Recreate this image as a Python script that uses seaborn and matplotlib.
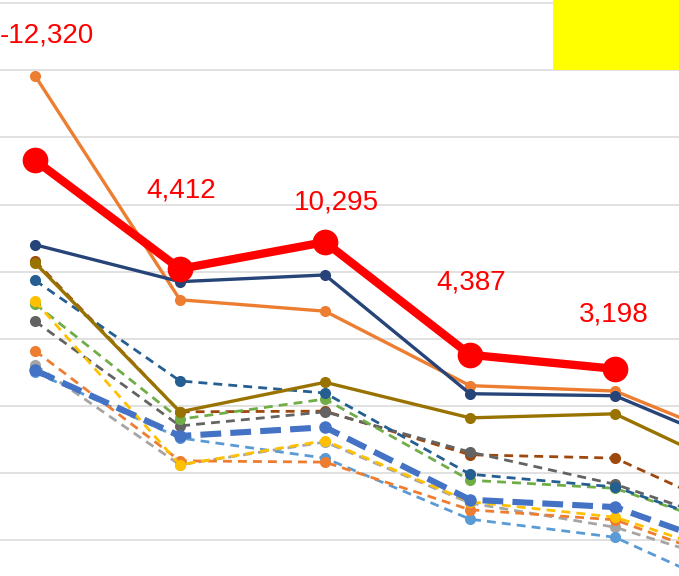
import matplotlib
matplotlib.use("Agg")
import matplotlib.pyplot as plt
from matplotlib.patches import Rectangle
import seaborn as sns
import pandas as pd

# ==========================================
# Data (gridline step = 10)
# ==========================================
periods = [0, 1, 2, 3, 4, 5]

red_vals = [56.6, 40.4, 44.4, 27.6, 25.5]
red_labels = ["-12,320", "4,412", "10,295", "4,387", "3,198"]
label_x = [0.08, 1.01, 2.08, 3.01, 3.99]
label_y = [74.2, 51.1, 49.3, 37.4, 32.5]

orange_solid = [69.2, 35.8, 34.1, 23.0, 22.2, 13.4]
navy_solid = [44.0, 38.5, 39.5, 21.8, 21.5, 12.4]
olive_solid = [41.3, 19.1, 23.5, 18.2, 18.8, 8.6]
brown_dash = [41.6, 19.1, 19.2, 12.7, 12.2, 2.4]
darkblue_dash = [38.7, 23.7, 21.9, 9.8, 7.9, 0.4]
green_dash = [35.2, 18.0, 21.0, 8.9, 7.7, 0.3]
darkgray_dash = [32.6, 17.0, 19.1, 13.1, 8.3, 1.0]
orange_dash = [28.2, 11.8, 11.6, 4.5, 3.0, -4.8]
yellow_dash = [35.6, 11.2, 14.8, 5.7, 3.4, -3.7]
lightgray_dash = [26.1, 11.2, 14.6, 5.5, 1.9, -4.8]
lightblue_dash = [25.0, 15.2, 12.2, 3.1, 0.4, -9.4]
blue_thick = [25.3, 15.5, 16.8, 6.0, 4.9, -2.8]

thin_dash = (0, (3.2, 2.2))

# (values, color, linewidth, markersize, linestyle) in draw order
series = [
    (lightgray_dash, "#A5A5A5", 2.0, 8, thin_dash),
    (lightblue_dash, "#5B9BD5", 2.0, 8, thin_dash),
    (orange_dash, "#ED7D31", 2.0, 8, thin_dash),
    (brown_dash, "#9E480E", 2.0, 8, thin_dash),
    (darkgray_dash, "#636363", 2.0, 8, thin_dash),
    (green_dash, "#70AD47", 2.0, 8, thin_dash),
    (yellow_dash, "#FFC000", 2.0, 8, thin_dash),
    (darkblue_dash, "#255E91", 2.0, 8, thin_dash),
    (blue_thick, "#4472C4", 4.4, 9, (0, (3.4, 1.5))),
    (olive_solid, "#997300", 2.4, 8, "-"),
    (orange_solid, "#ED7D31", 2.4, 8, "-"),
    (navy_solid, "#264478", 2.4, 8, "-"),
]

# ==========================================
# Plot
# ==========================================
sns.set_style("white")
plt.rcParams['font.family'] = ['Liberation Sans', 'DejaVu Sans']

fig = plt.figure(figsize=(6.79, 5.76), dpi=100)
ax = fig.add_axes([0, 0, 1, 1])

for vals, color, lw, ms, ls in series:
    df = pd.DataFrame({"period": periods[:len(vals)], "value": vals})
    sns.lineplot(data=df, x="period", y="value", ax=ax, color=color,
                 linewidth=lw, linestyle=ls, marker="o", markersize=ms,
                 markeredgewidth=0, legend=False)

red_df = pd.DataFrame({"period": periods[:len(red_vals)], "value": red_vals})
sns.lineplot(data=red_df, x="period", y="value", ax=ax, color="#FF0000",
             linewidth=6.0, marker="o", markersize=18.5, markeredgewidth=0,
             legend=False, zorder=5)

for tx, ty, txt in zip(label_x, label_y, red_labels):
    ax.text(tx, ty, txt, color="#FF0000", fontsize=20, ha="center",
            va="baseline", zorder=6)

# gridlines
for g in range(0, 90, 10):
    ax.axhline(g, color="#D9D9D9", linewidth=1.1, zorder=0)

# yellow box in the top right corner
ax.add_patch(Rectangle((3.572, 70.0), 2.0, 20.0, facecolor="#FFFF00",
                       edgecolor="none", zorder=7))

ax.set_xlim(-0.2414, 4.4414)
ax.set_ylim(-5.37, 80.48)
ax.set_xlabel("")
ax.set_ylabel("")
ax.set_xticks([])
ax.set_yticks([])
for s in ax.spines.values():
    s.set_visible(False)

fig.savefig("out.png", dpi=100)
plt.close(fig)
